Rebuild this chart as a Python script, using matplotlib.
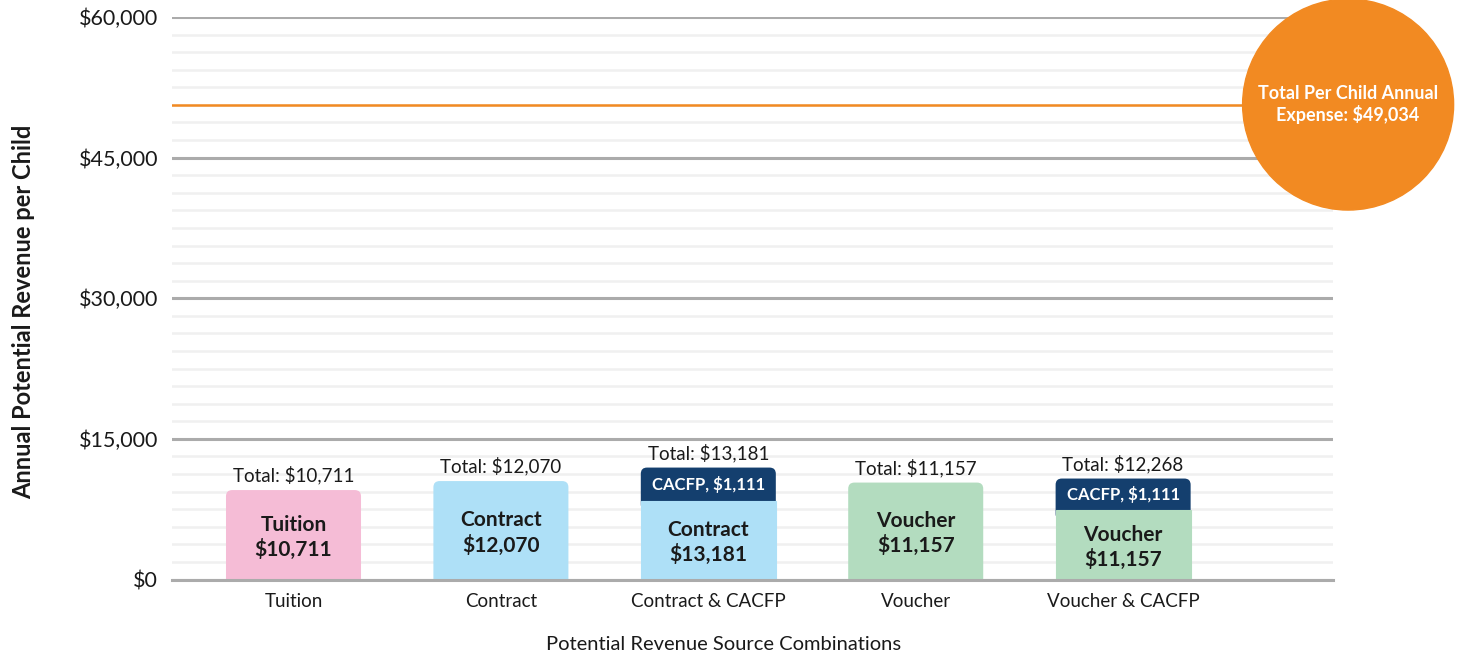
import matplotlib.pyplot as plt
import matplotlib.transforms as mtransforms
from matplotlib.patches import FancyBboxPatch, Circle
from matplotlib.ticker import MultipleLocator, FuncFormatter

plt.rcParams['font.family'] = ['Lato', 'DejaVu Sans']

# labelled values
categories = ['Tuition', 'Contract', 'Contract & CACFP', 'Voucher', 'Voucher & CACFP']
source_names = ['Tuition', 'Contract', 'Contract', 'Voucher', 'Voucher']
source_values = [10711, 12070, 13181, 11157, 11157]
cacfp_values = [0, 0, 1111, 0, 1111]
totals = [10711, 12070, 13181, 11157, 12268]
expense = 49034

# heights as drawn in the original (it is not drawn to scale)
base_heights = [9540, 10500, 8420, 10340, 7410]
cacfp_heights = [0, 0, 3520, 0, 3360]
expense_height = 50660

y_ticks = [0, 15000, 30000, 45000, 60000]

bar_colors = ['#f5bcd6', '#aee0f7', '#aee0f7', '#b3dcbf', '#b3dcbf']
navy = '#143f6e'
orange = '#f28a22'
grid_major = '#ababab'
grid_minor = '#f0f0f0'
text_col = '#1a1a1a'

fig = plt.figure(figsize=(14.61, 6.56), dpi=100)
ax = fig.add_axes([0.1177, 0.1166, 0.7947, 0.8575])
ax.set_xlim(-0.586, 5.012)
ax.set_ylim(0, 60000)

# aspect so that the rounded corners come out round in pixels
pos = ax.get_position()
px_w = pos.width * fig.get_figwidth() * fig.dpi
px_h = pos.height * fig.get_figheight() * fig.dpi
x_per_px = (ax.get_xlim()[1] - ax.get_xlim()[0]) / px_w
y_per_px = (ax.get_ylim()[1] - ax.get_ylim()[0]) / px_h
aspect = y_per_px / x_per_px

bar_w = 0.651
round_style = 'round,pad=0,rounding_size=0.03'
x = list(range(len(categories)))

for i in x:
    base = base_heights[i]
    top = base + cacfp_heights[i]
    if cacfp_heights[i] > 0:
        start = base - 10 * y_per_px
        dark = FancyBboxPatch((x[i] - bar_w / 2, start), bar_w, top - start,
                              boxstyle=round_style, mutation_aspect=aspect,
                              fc=navy, ec='none', zorder=2)
        ax.add_patch(dark)
        ax.bar(x[i], base, width=bar_w, color=bar_colors[i], ec=bar_colors[i], lw=0.8, zorder=2.5)
        ax.text(x[i], base + cacfp_heights[i] / 2, f'CACFP, ${cacfp_values[i]:,}',
                ha='center', va='center', color='white', fontsize=12, fontweight='bold', zorder=4)
    else:
        bar = FancyBboxPatch((x[i] - bar_w / 2, -base * 0.2), bar_w, base * 1.2,
                             boxstyle=round_style, mutation_aspect=aspect,
                             fc=bar_colors[i], ec='none', zorder=2)
        ax.add_patch(bar)

    ax.annotate(f'{source_names[i]}\n${source_values[i]:,}', (x[i], base / 2),
                xytext=(0, -2), textcoords='offset points',
                ha='center', va='center', fontsize=15, fontweight='bold', color=text_col,
                linespacing=1.25, zorder=4)
    ax.annotate(f'Total: ${totals[i]:,}', (x[i], top), xytext=(0, 4), textcoords='offset points',
                ha='center', va='bottom', fontsize=13.5, color=text_col, zorder=4)

# expense line and bubble
ax.axhline(expense_height, color=orange, lw=1.8, zorder=1.5)
blend = mtransforms.blended_transform_factory(ax.transAxes, ax.transData)
bubble_trans = fig.dpi_scale_trans + mtransforms.ScaledTranslation(1.013, expense_height, blend)
ax.add_artist(Circle((0, 0), 1.055, transform=bubble_trans, color=orange, clip_on=False, zorder=5))
ax.text(1.013, expense_height, f'Total Per Child Annual\nExpense: ${expense:,}', transform=blend,
        ha='center', va='center', color='white', fontsize=13, fontweight='bold',
        linespacing=1.2, zorder=6)

# grid
ax.set_yticks(y_ticks)
ax.yaxis.set_major_formatter(FuncFormatter(lambda v, p: f'${v:,.0f}'))
ax.yaxis.set_minor_locator(MultipleLocator(1875))
ax.grid(axis='y', which='major', color=grid_major, lw=2.2)
ax.grid(axis='y', which='minor', color=grid_minor, lw=1.8)
ax.set_axisbelow(True)
ax.axhline(0, color=grid_major, lw=2.2, zorder=3, clip_on=False)
for s in ax.spines.values():
    s.set_visible(False)

ax.set_xticks(x)
ax.set_xticklabels(categories)
ax.tick_params(axis='both', which='both', length=0)
ax.tick_params(axis='y', labelsize=15.5, pad=10, labelcolor=text_col)
ax.tick_params(axis='x', labelsize=13.5, pad=10, labelcolor=text_col)

ax.set_ylabel('Annual Potential Revenue per Child', fontsize=17, fontweight='bold', color=text_col)
ax.yaxis.set_label_coords(-0.118, 0.4756)
ax.set_xlabel('Potential Revenue Source Combinations', fontsize=14.5, color=text_col)
ax.xaxis.set_label_coords(0.4755, -0.1)

plt.savefig('out.png', dpi=100)
